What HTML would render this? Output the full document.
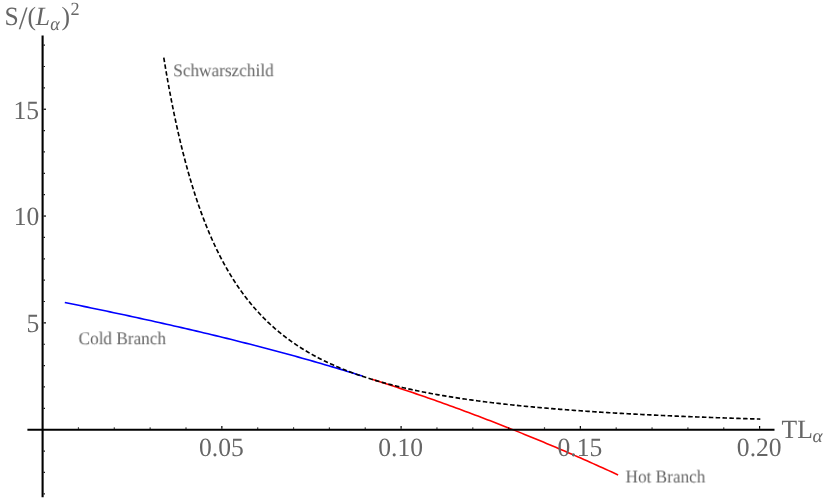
<!DOCTYPE html>
<html><head><meta charset="utf-8"><title>plot</title>
<style>
html,body{margin:0;padding:0;background:#fff;}
body{width:830px;height:499px;overflow:hidden;}
svg{display:block;will-change:transform;}
text{font-family:"Liberation Serif",serif;fill:#666;text-rendering:geometricPrecision;}
.txt{opacity:0.999;}
.tk{font-size:26.3px;}
.lb{font-size:17.9px;}
</style></head><body>
<svg width="830" height="499" viewBox="0 0 830 499">
<rect width="830" height="499" fill="#fff"/>
<path d="M64.80,302.51 L68.57,303.28 L72.34,304.05 L76.11,304.82 L79.87,305.59 L83.64,306.37 L87.41,307.15 L91.18,307.93 L94.95,308.71 L98.72,309.50 L102.48,310.29 L106.25,311.08 L110.02,311.87 L113.79,312.67 L117.56,313.47 L121.33,314.28 L125.09,315.08 L128.86,315.89 L132.63,316.71 L136.40,317.53 L140.17,318.35 L143.94,319.17 L147.70,320.00 L151.47,320.83 L155.24,321.67 L159.01,322.51 L162.78,323.35 L166.55,324.20 L170.31,325.05 L174.08,325.91 L177.85,326.77 L181.62,327.63 L185.39,328.50 L189.16,329.38 L192.92,330.26 L196.69,331.14 L200.46,332.03 L204.23,332.92 L208.00,333.82 L211.77,334.73 L215.53,335.64 L219.30,336.55 L223.07,337.47 L226.84,338.40 L230.61,339.33 L234.38,340.27 L238.14,341.21 L241.91,342.16 L245.68,343.11 L249.45,344.07 L253.22,345.04 L256.99,346.01 L260.75,346.99 L264.52,347.97 L268.29,348.96 L272.06,349.96 L275.83,350.97 L279.60,351.98 L283.36,352.99 L287.13,354.02 L290.90,355.05 L294.67,356.09 L298.44,357.13 L302.21,358.19 L305.97,359.25 L309.74,360.31 L313.51,361.39 L317.28,362.47 L321.05,363.56 L324.82,364.66 L328.58,365.76 L332.35,366.87 L336.12,367.99 L339.89,369.12 L343.66,370.26 L347.43,371.40 L351.19,372.56 L354.96,373.72 L358.73,374.89 L362.50,376.06" fill="none" stroke="#0000ff" stroke-width="1.6"/>
<path d="M372.00,379.29 L375.12,380.28 L378.23,381.27 L381.35,382.27 L384.46,383.27 L387.58,384.28 L390.69,385.30 L393.81,386.32 L396.92,387.35 L400.04,388.38 L403.15,389.42 L406.27,390.46 L409.38,391.51 L412.50,392.57 L415.61,393.63 L418.73,394.70 L421.84,395.77 L424.96,396.85 L428.07,397.93 L431.19,399.02 L434.30,400.12 L437.42,401.22 L440.53,402.33 L443.65,403.44 L446.76,404.56 L449.88,405.69 L452.99,406.82 L456.11,407.95 L459.23,409.09 L462.34,410.24 L465.46,411.39 L468.57,412.55 L471.69,413.72 L474.80,414.89 L477.92,416.06 L481.03,417.25 L484.15,418.43 L487.26,419.63 L490.38,420.83 L493.49,422.03 L496.61,423.24 L499.72,424.46 L502.84,425.68 L505.95,426.91 L509.07,428.14 L512.18,429.38 L515.30,430.62 L518.41,431.88 L521.53,433.13 L524.64,434.39 L527.76,435.66 L530.87,436.94 L533.99,438.21 L537.11,439.50 L540.22,440.79 L543.34,442.09 L546.45,443.39 L549.57,444.70 L552.68,446.01 L555.80,447.33 L558.91,448.66 L562.03,449.99 L565.14,451.32 L568.26,452.67 L571.37,454.01 L574.49,455.37 L577.60,456.73 L580.72,458.09 L583.83,459.46 L586.95,460.84 L590.06,462.22 L593.18,463.61 L596.29,465.01 L599.41,466.40 L602.52,467.81 L605.64,469.22 L608.75,470.64 L611.87,472.06 L614.98,473.49 L618.10,474.92" fill="none" stroke="#ff0000" stroke-width="1.6"/>
<g stroke="#000" stroke-width="1.2" fill="none">
<line x1="78.45" y1="428.70" x2="78.45" y2="427.40"/><line x1="114.30" y1="428.70" x2="114.30" y2="427.40"/><line x1="150.15" y1="428.70" x2="150.15" y2="427.40"/><line x1="186.00" y1="428.70" x2="186.00" y2="427.40"/><line x1="221.85" y1="428.70" x2="221.85" y2="426.10"/><line x1="257.70" y1="428.70" x2="257.70" y2="427.40"/><line x1="293.55" y1="428.70" x2="293.55" y2="427.40"/><line x1="329.40" y1="428.70" x2="329.40" y2="427.40"/><line x1="365.25" y1="428.70" x2="365.25" y2="427.40"/><line x1="401.10" y1="428.70" x2="401.10" y2="426.10"/><line x1="436.95" y1="428.70" x2="436.95" y2="427.40"/><line x1="472.80" y1="428.70" x2="472.80" y2="427.40"/><line x1="508.65" y1="428.70" x2="508.65" y2="427.40"/><line x1="544.50" y1="428.70" x2="544.50" y2="427.40"/><line x1="580.35" y1="428.70" x2="580.35" y2="426.10"/><line x1="616.20" y1="428.70" x2="616.20" y2="427.40"/><line x1="652.05" y1="428.70" x2="652.05" y2="427.40"/><line x1="687.90" y1="428.70" x2="687.90" y2="427.40"/><line x1="723.75" y1="428.70" x2="723.75" y2="427.40"/><line x1="759.60" y1="428.70" x2="759.60" y2="426.10"/>
<line x1="43.60" y1="493.79" x2="44.90" y2="493.79"/><line x1="43.60" y1="472.43" x2="44.90" y2="472.43"/><line x1="43.60" y1="451.06" x2="44.90" y2="451.06"/><line x1="43.60" y1="408.33" x2="44.90" y2="408.33"/><line x1="43.60" y1="386.97" x2="44.90" y2="386.97"/><line x1="43.60" y1="365.61" x2="44.90" y2="365.61"/><line x1="43.60" y1="344.24" x2="44.90" y2="344.24"/><line x1="43.60" y1="322.88" x2="46.00" y2="322.88"/><line x1="43.60" y1="301.51" x2="44.90" y2="301.51"/><line x1="43.60" y1="280.14" x2="44.90" y2="280.14"/><line x1="43.60" y1="258.78" x2="44.90" y2="258.78"/><line x1="43.60" y1="237.41" x2="44.90" y2="237.41"/><line x1="43.60" y1="216.05" x2="46.00" y2="216.05"/><line x1="43.60" y1="194.69" x2="44.90" y2="194.69"/><line x1="43.60" y1="173.32" x2="44.90" y2="173.32"/><line x1="43.60" y1="151.95" x2="44.90" y2="151.95"/><line x1="43.60" y1="130.59" x2="44.90" y2="130.59"/><line x1="43.60" y1="109.23" x2="46.00" y2="109.23"/><line x1="43.60" y1="87.86" x2="44.90" y2="87.86"/><line x1="43.60" y1="66.50" x2="44.90" y2="66.50"/><line x1="43.60" y1="45.13" x2="44.90" y2="45.13"/>
</g>
<line x1="27.4" y1="429.7" x2="774.5" y2="429.7" stroke="#000" stroke-width="2.1"/>
<line x1="42.6" y1="35.6" x2="42.6" y2="497.2" stroke="#000" stroke-width="2.1"/>
<g class="tk txt">
<text transform="translate(221.35 455.5) scale(0.973 1)" text-anchor="middle">0.05</text>
<text transform="translate(400.65 455.5) scale(0.973 1)" text-anchor="middle">0.10</text>
<text transform="translate(579.95 455.5) scale(0.973 1)" text-anchor="middle">0.15</text>
<text transform="translate(759.25 455.5) scale(0.973 1)" text-anchor="middle">0.20</text>
<text transform="translate(39.3 331.6) scale(0.973 1)" text-anchor="end">5</text>
<text transform="translate(39.3 225.4) scale(0.973 1)" text-anchor="end">10</text>
<text transform="translate(39.0 118.8) scale(0.973 1)" text-anchor="end">15</text>
</g>
<path d="M163.78,57.70 L164.24,60.48 L164.69,63.23 L165.15,65.95 L165.60,68.64 L166.06,71.30 L166.51,73.93 L166.97,76.53 L167.43,79.11 L167.88,81.65 L168.34,84.17 L168.79,86.66 L169.25,89.12 L169.70,91.56 L170.16,93.97 L170.61,96.36 L171.07,98.72 L171.53,101.05 L171.98,103.36 L172.44,105.65 L172.89,107.91 L173.35,110.15 L173.80,112.36 L174.26,114.56 L174.71,116.73 L175.17,118.87 L175.63,121.00 L176.08,123.10 L176.54,125.18 L176.99,127.25 L177.45,129.29 L177.90,131.31 L178.36,133.31 L178.82,135.28 L179.27,137.24 L179.73,139.18 L180.18,141.10 L180.64,143.01 L181.09,144.89 L181.55,146.75 L182.00,148.60 L182.46,150.43 L182.92,152.24 L183.37,154.03 L183.83,155.81 L184.28,157.57 L184.74,159.31 L185.19,161.03 L185.65,162.74 L186.10,164.43 L186.56,166.11 L187.02,167.77 L187.47,169.42 L187.93,171.05 L188.38,172.66 L188.84,174.26 L189.29,175.84 L189.75,177.41 L190.20,178.97 L190.66,180.51 L191.12,182.03 L191.57,183.55 L192.03,185.05 L192.48,186.53 L192.94,188.00 L193.39,189.46 L193.85,190.91 L194.30,192.34 L194.76,193.76 L195.22,195.16 L195.67,196.56 L196.13,197.94 L196.58,199.31 L197.04,200.67 L197.49,202.01 L197.95,203.34 L198.41,204.67 L198.86,205.98 L199.32,207.28 L199.77,208.56 L200.23,209.84 L200.68,211.10 L201.14,212.36 L201.59,213.60 L202.05,214.84 L202.51,216.06 L202.96,217.27 L203.42,218.47 L203.87,219.66 L204.33,220.85 L204.78,222.02 L205.24,223.18 L205.69,224.33 L206.15,225.47 L206.61,226.61 L207.06,227.73 L207.52,228.85 L207.97,229.95 L208.43,231.05 L208.88,232.13 L209.34,233.21 L209.79,234.28 L210.25,235.34 L210.71,236.39 L211.16,237.44 L211.62,238.47 L212.07,239.50 L212.53,240.52 L212.98,241.53 L213.44,242.53 L213.89,243.52 L214.35,244.51 L214.81,245.49 L215.26,246.46 L215.72,247.42 L216.17,248.38 L216.63,249.33 L217.08,250.27 L217.54,251.20 L218.00,252.13 L218.45,253.05 L218.91,253.96 L219.36,254.86 L219.82,255.76 L220.27,256.65 L220.73,257.54 L221.18,258.41 L221.64,259.28 L222.10,260.15 L222.55,261.00 L223.01,261.86 L223.46,262.70 L223.92,263.54 L224.37,264.37 L224.83,265.20 L225.28,266.02 L225.74,266.83 L226.20,267.64 L226.65,268.44 L227.11,269.23 L227.56,270.02 L228.02,270.81 L228.47,271.58 L228.93,272.36 L229.38,273.12 L229.84,273.88 L230.30,274.64 L230.75,275.39 L231.21,276.13 L231.66,276.87 L232.12,277.61 L232.57,278.34 L233.03,279.06 L233.48,279.78 L233.94,280.49 L234.40,281.20 L234.85,281.90 L235.31,282.60 L235.76,283.29 L236.22,283.98 L236.67,284.66 L237.13,285.34 L237.59,286.02 L238.04,286.69 L238.50,287.35 L238.95,288.01 L239.41,288.66 L239.86,289.32 L240.32,289.96 L240.77,290.60 L241.23,291.24 L241.69,291.87 L242.14,292.50 L242.60,293.13 L243.05,293.75 L243.51,294.36 L243.96,294.97 L244.42,295.58 L244.87,296.19 L245.33,296.78 L245.79,297.38 L246.24,297.97 L246.70,298.56 L247.15,299.14 L247.61,299.72 L248.06,300.30 L248.52,300.87 L248.97,301.44 L249.43,302.00 L249.89,302.56 L250.34,303.12 L250.80,303.67 L251.25,304.22 L251.71,304.77 L252.16,305.31 L252.62,305.85 L253.08,306.39 L253.53,306.92 L253.99,307.45 L254.44,307.97 L254.90,308.49 L255.35,309.01 L255.81,309.53 L256.26,310.04 L256.72,310.55 L257.18,311.05 L257.63,311.56 L258.09,312.06 L258.54,312.55 L259.00,313.04 L259.45,313.53 L259.91,314.02 L260.36,314.50 L260.82,314.98 L261.28,315.46 L261.73,315.94 L262.19,316.41 L262.64,316.88 L263.10,317.34 L263.55,317.81 L264.01,318.27 L264.46,318.72 L264.92,319.18 L265.38,319.63 L265.83,320.08 L266.29,320.52 L266.74,320.97 L267.20,321.41 L267.65,321.85 L268.11,322.28 L268.56,322.71 L269.02,323.14 L269.48,323.57 L269.93,324.00 L270.39,324.42 L270.84,324.84 L271.30,325.26 L271.75,325.67 L272.21,326.08 L272.67,326.49 L273.12,326.90 L273.58,327.31 L274.03,327.71 L274.49,328.11 L274.94,328.51 L275.40,328.90 L275.85,329.30 L276.31,329.69 L276.77,330.08 L277.22,330.46 L277.68,330.85 L278.13,331.23 L278.59,331.61 L279.04,331.99 L279.50,332.36 L279.95,332.73 L280.41,333.11 L280.87,333.47 L281.32,333.84 L281.78,334.21 L282.23,334.57 L282.69,334.93 L283.14,335.29 L283.60,335.65 L284.05,336.00 L284.51,336.35 L284.97,336.70 L285.42,337.05 L285.88,337.40 L286.33,337.74 L286.79,338.09 L287.24,338.43 L287.70,338.77 L288.15,339.10 L288.61,339.44 L289.07,339.77 L289.52,340.10 L289.98,340.43 L290.43,340.76 L290.89,341.09 L291.34,341.41 L291.80,341.73 L292.26,342.05 L292.71,342.37 L293.17,342.69 L293.62,343.01 L294.08,343.32 L294.53,343.63 L294.99,343.94 L295.44,344.25 L295.90,344.56 L296.36,344.86 L296.81,345.17 L297.27,345.47 L297.72,345.77 L298.18,346.07 L298.63,346.37 L299.09,346.66 L299.54,346.96 L300.00,347.25 L301.54,348.23 L303.08,349.19 L304.62,350.13 L306.16,351.06 L307.70,351.97 L309.24,352.86 L310.78,353.74 L312.32,354.61 L313.86,355.46 L315.39,356.29 L316.93,357.11 L318.47,357.92 L320.01,358.72 L321.55,359.50 L323.09,360.27 L324.63,361.02 L326.17,361.77 L327.71,362.50 L329.25,363.22 L330.79,363.93 L332.33,364.62 L333.87,365.31 L335.41,365.98 L336.95,366.65 L338.49,367.30 L340.03,367.95 L341.57,368.58 L343.11,369.21 L344.64,369.82 L346.18,370.43 L347.72,371.02 L349.26,371.61 L350.80,372.19 L352.34,372.76 L353.88,373.32 L355.42,373.88 L356.96,374.42 L358.50,374.96 L360.04,375.49 L361.58,376.01 L363.12,376.53 L364.66,377.03 L366.20,377.53 L367.74,378.03 L369.28,378.51 L370.82,378.99 L372.35,379.46 L373.89,379.93 L375.43,380.39 L376.97,380.84 L378.51,381.29 L380.05,381.73 L381.59,382.16 L383.13,382.59 L384.67,383.01 L386.21,383.43 L387.75,383.84 L389.29,384.25 L390.83,384.65 L392.37,385.05 L393.91,385.44 L395.45,385.82 L396.99,386.20 L398.53,386.58 L400.07,386.95 L401.60,387.32 L403.14,387.68 L404.68,388.03 L406.22,388.38 L407.76,388.73 L409.30,389.08 L410.84,389.41 L412.38,389.75 L413.92,390.08 L415.46,390.41 L417.00,390.73 L418.54,391.05 L420.08,391.36 L421.62,391.67 L423.16,391.98 L424.70,392.28 L426.24,392.58 L427.78,392.88 L429.32,393.17 L430.85,393.46 L432.39,393.75 L433.93,394.03 L435.47,394.31 L437.01,394.58 L438.55,394.86 L440.09,395.13 L441.63,395.39 L443.17,395.65 L444.71,395.92 L446.25,396.17 L447.79,396.43 L449.33,396.68 L450.87,396.93 L452.41,397.17 L453.95,397.42 L455.49,397.66 L457.03,397.89 L458.56,398.13 L460.10,398.36 L461.64,398.59 L463.18,398.82 L464.72,399.04 L466.26,399.27 L467.80,399.49 L469.34,399.70 L470.88,399.92 L472.42,400.13 L473.96,400.34 L475.50,400.55 L477.04,400.76 L478.58,400.96 L480.12,401.16 L481.66,401.36 L483.20,401.56 L484.74,401.76 L486.28,401.95 L487.81,402.14 L489.35,402.33 L490.89,402.52 L492.43,402.70 L493.97,402.89 L495.51,403.07 L497.05,403.25 L498.59,403.43 L500.13,403.60 L501.67,403.78 L503.21,403.95 L504.75,404.12 L506.29,404.29 L507.83,404.46 L509.37,404.63 L510.91,404.79 L512.45,404.95 L513.99,405.12 L515.53,405.28 L517.06,405.43 L518.60,405.59 L520.14,405.75 L521.68,405.90 L523.22,406.05 L524.76,406.20 L526.30,406.35 L527.84,406.50 L529.38,406.65 L530.92,406.79 L532.46,406.93 L534.00,407.08 L535.54,407.22 L537.08,407.36 L538.62,407.50 L540.16,407.63 L541.70,407.77 L543.24,407.90 L544.77,408.04 L546.31,408.17 L547.85,408.30 L549.39,408.43 L550.93,408.56 L552.47,408.69 L554.01,408.81 L555.55,408.94 L557.09,409.06 L558.63,409.19 L560.17,409.31 L561.71,409.43 L563.25,409.55 L564.79,409.67 L566.33,409.78 L567.87,409.90 L569.41,410.02 L570.95,410.13 L572.49,410.24 L574.02,410.36 L575.56,410.47 L577.10,410.58 L578.64,410.69 L580.18,410.80 L581.72,410.91 L583.26,411.01 L584.80,411.12 L586.34,411.22 L587.88,411.33 L589.42,411.43 L590.96,411.53 L592.50,411.63 L594.04,411.74 L595.58,411.84 L597.12,411.93 L598.66,412.03 L600.20,412.13 L601.74,412.23 L603.27,412.32 L604.81,412.42 L606.35,412.51 L607.89,412.61 L609.43,412.70 L610.97,412.79 L612.51,412.88 L614.05,412.97 L615.59,413.06 L617.13,413.15 L618.67,413.24 L620.21,413.33 L621.75,413.41 L623.29,413.50 L624.83,413.59 L626.37,413.67 L627.91,413.75 L629.45,413.84 L630.98,413.92 L632.52,414.00 L634.06,414.08 L635.60,414.17 L637.14,414.25 L638.68,414.33 L640.22,414.40 L641.76,414.48 L643.30,414.56 L644.84,414.64 L646.38,414.72 L647.92,414.79 L649.46,414.87 L651.00,414.94 L652.54,415.02 L654.08,415.09 L655.62,415.16 L657.16,415.24 L658.70,415.31 L660.23,415.38 L661.77,415.45 L663.31,415.52 L664.85,415.59 L666.39,415.66 L667.93,415.73 L669.47,415.80 L671.01,415.87 L672.55,415.93 L674.09,416.00 L675.63,416.07 L677.17,416.13 L678.71,416.20 L680.25,416.26 L681.79,416.33 L683.33,416.39 L684.87,416.46 L686.41,416.52 L687.95,416.58 L689.48,416.65 L691.02,416.71 L692.56,416.77 L694.10,416.83 L695.64,416.89 L697.18,416.95 L698.72,417.01 L700.26,417.07 L701.80,417.13 L703.34,417.19 L704.88,417.25 L706.42,417.30 L707.96,417.36 L709.50,417.42 L711.04,417.47 L712.58,417.53 L714.12,417.59 L715.66,417.64 L717.19,417.70 L718.73,417.75 L720.27,417.80 L721.81,417.86 L723.35,417.91 L724.89,417.97 L726.43,418.02 L727.97,418.07 L729.51,418.12 L731.05,418.17 L732.59,418.23 L734.13,418.28 L735.67,418.33 L737.21,418.38 L738.75,418.43 L740.29,418.48 L741.83,418.53 L743.37,418.58 L744.91,418.62 L746.44,418.67 L747.98,418.72 L749.52,418.77 L751.06,418.82 L752.60,418.86 L754.14,418.91 L755.68,418.96 L757.22,419.00 L758.76,419.05 L760.30,419.09" fill="none" stroke="#000" stroke-width="1.65" stroke-dasharray="4.500 2.368"/>
<g class="lb txt">
<text transform="translate(173.2 76.2) scale(0.9626 1)">Schwarszchild</text>
<text transform="translate(78.5 344.2) scale(0.9626 1)">Cold Branch</text>
<text transform="translate(625.5 482.5) scale(0.9626 1)">Hot Branch</text>
</g>
<g class="tk txt">
<text transform="translate(4.4 25) scale(0.973 1)">S</text>
<text transform="translate(18.7 28.6) scale(0.973 1)" font-size="32.5px">/</text>
<text transform="translate(27.6 25) scale(0.973 1)">(</text>
<text transform="translate(35.7 25) scale(0.973 1)" font-style="italic">L</text>
<text transform="translate(50.2 29.8) scale(0.973 1)" font-size="18.7px" font-style="italic">α</text>
<text transform="translate(61.6 25) scale(0.973 1)">)</text>
<text transform="translate(70.5 14.6) scale(0.973 1)" font-size="18.7px">2</text>
<text transform="translate(781.6 437.6) scale(0.973 1)">TL</text>
<text transform="translate(812.6 441.9) scale(1.03 1)" font-size="18.7px" font-style="italic">α</text>
</g>
</svg>
</body></html>
